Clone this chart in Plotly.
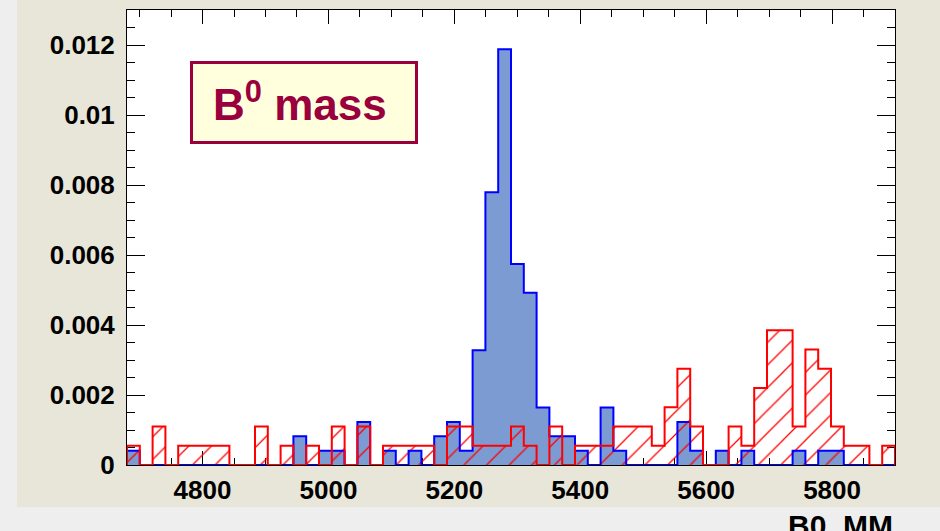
import plotly.graph_objects as go

# ---- data -------------------------------------------------------------
X_MIN, X_MAX, N_BINS = 4680.0, 5900.0, 60

# signal (blue, filled) bin contents
signal = [
    0.00041, 0, 0, 0, 0, 0, 0, 0, 0, 0,
    0, 0, 0, 0.00082, 0, 0.00041, 0.00041, 0, 0.00123, 0,
    0.00041, 0, 0.00041, 0, 0.00082, 0.00123, 0.00041, 0.00328, 0.00779, 0.01188,
    0.00574, 0.00492, 0.00164, 0.00082, 0.00082, 0.00041, 0, 0.00164, 0.00041, 0,
    0, 0, 0, 0.00123, 0.00041, 0, 0.00041, 0, 0.00041, 0,
    0, 0, 0.00041, 0, 0.00041, 0.00041, 0, 0, 0, 0,
]

# background (red, hatched) bin contents
background = [
    0.00055, 0, 0.0011, 0, 0.00055, 0.00055, 0.00055, 0.00055, 0, 0,
    0.0011, 0, 0.00055, 0, 0.00055, 0, 0.0011, 0, 0.0011, 0,
    0.00055, 0.00055, 0.00055, 0.00055, 0, 0.0011, 0.0011, 0.00055, 0.00055, 0.00055,
    0.0011, 0.00055, 0, 0.0011, 0, 0.00055, 0.00055, 0.00055, 0.0011, 0.0011,
    0.0011, 0.00055, 0.00165, 0.00275, 0.0011, 0, 0, 0.0011, 0.00055, 0.0022,
    0.00385, 0.00385, 0.0011, 0.0033, 0.00275, 0.0011, 0.00055, 0.00055, 0, 0.00055,
]

x_tick_vals = [4800, 5000, 5200, 5400, 5600, 5800]
y_tick_vals = [0, 0.002, 0.004, 0.006, 0.008, 0.010, 0.012]
y_tick_text = ["0", "0.002", "0.004", "0.006", "0.008", "0.01", "0.012"]
Y_MAX = 0.0130

title_text = "B<sup>0</sup> mass"
x_title = "B0_MM"

# ---- derived bin geometry ---------------------------------------------
bw = (X_MAX - X_MIN) / N_BINS
edges = [X_MIN + i * bw for i in range(N_BINS + 1)]
centers = [X_MIN + (i + 0.5) * bw for i in range(N_BINS)]


def step_xy(vals):
    xs = [edges[0]] + edges[:-1] + [edges[-1], edges[-1]]
    ys = [0] + list(vals) + [vals[-1], 0]
    return xs, ys


# ---- layout geometry (pixels) -----------------------------------------
W, H = 940, 531
L, R, T, B = 127, 45, 10, 66
PW, PH = W - L - R, H - T - B


def px(xp):
    return (xp - L) / PW


def py(yp):
    return (H - B - yp) / PH


BEIGE = "#E8E6D9"
GRAY = "#EEEEEE"
BLUE_FILL = "#7B9BD2"
BLUE = "#0000FF"
RED = "#FF0000"
MAROON = "#99003D"
FONT = "Liberation Sans"

fig = go.Figure()

fig.add_trace(go.Bar(
    x=centers, y=signal, width=bw,
    marker=dict(color=BLUE_FILL, line=dict(width=0)),
    hoverinfo="skip", showlegend=False,
))
sx, sy = step_xy(signal)
fig.add_trace(go.Scatter(
    x=sx, y=sy, mode="lines", line=dict(color=BLUE, width=2, shape="hv"),
    hoverinfo="skip", showlegend=False,
))
fig.add_trace(go.Bar(
    x=centers, y=background, width=bw,
    marker=dict(
        color="rgba(0,0,0,0)", line=dict(width=0),
        pattern=dict(shape="/", fgcolor=RED, bgcolor="rgba(0,0,0,0)",
                     size=16, solidity=0.08, fillmode="overlay", fgopacity=1),
    ),
    hoverinfo="skip", showlegend=False,
))
bx, by = step_xy(background)
fig.add_trace(go.Scatter(
    x=bx, y=by, mode="lines", line=dict(color=RED, width=2, shape="hv"),
    hoverinfo="skip", showlegend=False,
))

axis_common = dict(
    showgrid=False, zeroline=False, showline=True, linecolor="black",
    linewidth=1, mirror="ticks", ticks="inside", tickcolor="black",
    tickwidth=1, layer="below traces",
    tickfont=dict(family=FONT, size=26, color="black", weight="bold"),
)

fig.update_layout(
    width=W, height=H, autosize=False,
    margin=dict(l=L, r=R, t=T, b=B, pad=0),
    paper_bgcolor=BEIGE, plot_bgcolor="white",
    barmode="overlay", bargap=0,
    xaxis=dict(
        range=[X_MIN, X_MAX], tickmode="array", tickvals=x_tick_vals,
        ticklen=14, ticklabelstandoff=2,
        minor=dict(tickmode="linear", tick0=4800, dtick=50, ticklen=7,
                   ticks="inside", tickcolor="black", tickwidth=1),
        **axis_common,
    ),
    yaxis=dict(
        range=[0, Y_MAX], tickmode="array", tickvals=y_tick_vals,
        ticktext=y_tick_text, ticklen=18, ticklabelstandoff=6,
        minor=dict(tickmode="linear", tick0=0, dtick=0.0005, ticklen=8,
                   ticks="inside", tickcolor="black", tickwidth=1),
        **axis_common,
    ),
    shapes=[
        dict(type="rect", xref="paper", yref="paper", layer="below",
             x0=px(0), x1=px(17), y0=py(H), y1=py(0),
             fillcolor=GRAY, line=dict(width=0)),
        dict(type="rect", xref="paper", yref="paper", layer="below",
             x0=px(0), x1=px(W), y0=py(H), y1=py(507),
             fillcolor=GRAY, line=dict(width=0)),
        dict(type="rect", xref="paper", yref="paper", layer="above",
             x0=px(191.5), x1=px(416.5), y0=py(142.5), y1=py(62.5),
             fillcolor="#FFFFDD", line=dict(color=MAROON, width=3)),
    ],
    annotations=[
        dict(text=title_text, xref="paper", yref="paper",
             x=px(300), y=py(102), xanchor="center", yanchor="middle",
             showarrow=False,
             font=dict(family=FONT, size=44, color=MAROON, weight="bold")),
        dict(text=x_title, xref="paper", yref="paper",
             x=1, y=py(507), xanchor="right", yanchor="top",
             showarrow=False,
             font=dict(family=FONT, size=30, color="black", weight="bold")),
    ],
)

fig.write_html("out.html")
